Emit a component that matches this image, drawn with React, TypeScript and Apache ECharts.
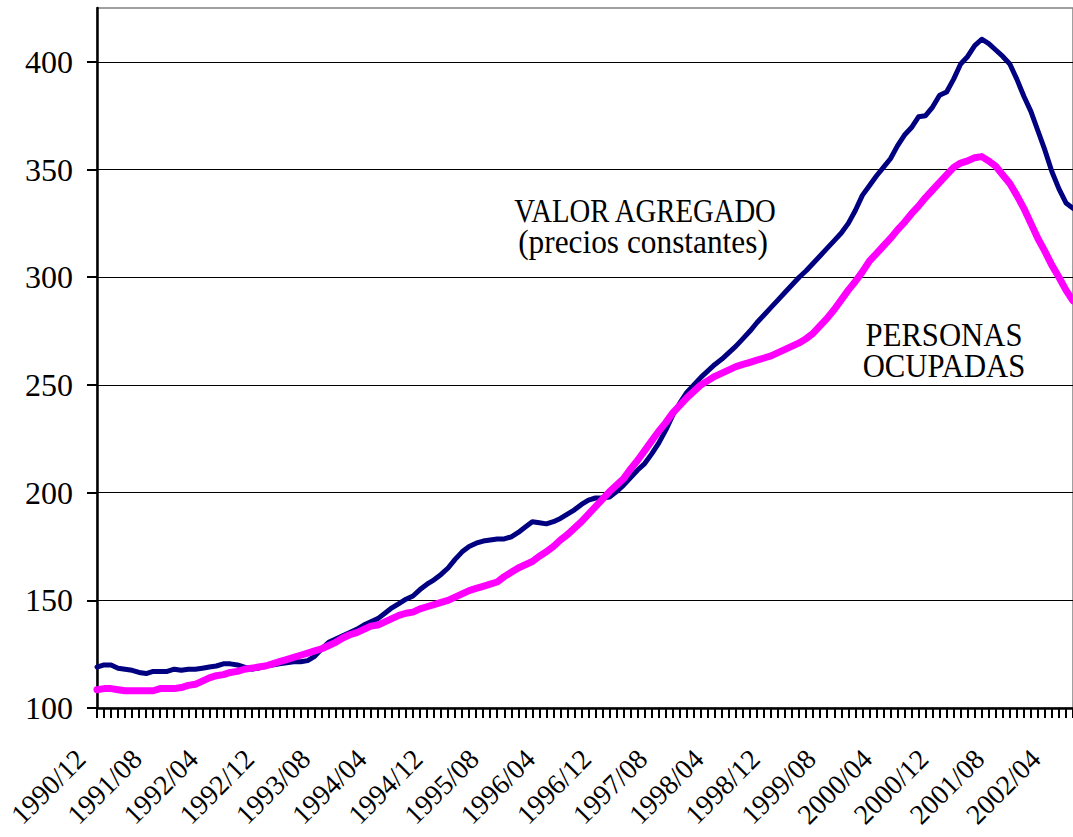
import React, { useEffect, useRef } from "react";
import * as echarts from "echarts";

// Monthly categories 1990/12 .. 2002/07
const START_YEAR = 1990;
const START_MONTH = 12;
const MONTH_COUNT = 140;
const categories: string[] = [];
for (let k = 0; k < MONTH_COUNT; k++) {
  const m0 = START_MONTH - 1 + k;
  const y = START_YEAR + Math.floor(m0 / 12);
  const m = (m0 % 12) + 1;
  categories.push(`${y}/${m < 10 ? "0" + m : m}`);
}

// VALOR AGREGADO (precios constantes)
const valorAgregado: number[] = [
  119, 120, 120, 118.5, 118, 117.5, 116.5, 116, 117, 117,
  117, 118, 117.5, 118, 118, 118.5, 119, 119.5, 120.5, 120.5,
  120, 119, 118, 118.5, 119.5, 120, 120.5, 121, 121.5, 121.5,
  122, 124, 127.5, 130.5, 132, 133.5, 135, 136.5, 138.5, 140,
  141.5, 144, 146.5, 148.5, 150.5, 152, 155, 157.5, 159.5, 162,
  165, 169, 172.5, 175, 176.5, 177.5, 178, 178.5, 178.5, 179.5,
  181.5, 184, 186.5, 186, 185.5, 186.5, 188, 190, 192, 194.5,
  196.5, 197.5, 197.5, 198, 200.5, 203.5, 207, 210.5, 213.5, 218,
  223, 229, 236, 241.5, 246.5, 250, 253.5, 256.5, 259.5, 262,
  265, 268, 271.5, 275, 279, 282.5, 286, 289.5, 293, 296.5,
  300, 303, 306.5, 310, 313.5, 317, 320.5, 325, 331, 338,
  342.5, 347, 351, 355, 361, 366, 369.5, 374.5, 375, 379,
  384.5, 386, 392, 399, 402.5, 407.5, 410.5, 408.5, 405.5, 402.5,
  399, 392, 384, 377, 368, 359, 349, 341, 334.5, 332,
];

// PERSONAS OCUPADAS
const personasOcupadas: number[] = [
  108.5, 109, 109, 108.5, 108, 108, 108, 108, 108, 109,
  109, 109, 109.5, 110.5, 111, 112.5, 114, 115, 115.5, 116.5,
  117, 118, 118.5, 119, 119.5, 120.5, 121.5, 122.5, 123.5, 124.5,
  125.5, 126.5, 127.5, 129, 130.5, 132.5, 134, 135, 136.5, 138,
  138.5, 140, 141.5, 143, 144, 144.5, 146, 147, 148, 149,
  150, 151.5, 153, 154.5, 155.5, 156.5, 157.5, 158.5, 161, 163,
  165, 166.5, 168, 170.5, 172.5, 175, 178, 180.5, 183.5, 186.5,
  190, 193.5, 197, 200.5, 203.5, 206.5, 211, 215, 219.5, 224,
  228.5, 232.5, 237, 240.5, 244, 247, 250, 252, 254, 255.5,
  257, 258.5, 259.5, 260.5, 261.5, 262.5, 263.5, 265, 266.5, 268,
  269.5, 271.5, 274, 277.5, 281, 285, 289.5, 294, 298, 302.5,
  307.5, 311, 314.5, 318, 322, 325.5, 329.5, 333, 337, 340.5,
  344, 347.5, 351, 353, 354, 355.5, 356, 354, 351.5, 347.5,
  343.5, 338, 332, 325, 318, 312, 305.5, 300, 294, 289,
];

const Y_MIN = 100;
const Y_MAX = 425;
const Y_INTERVAL = 50;

const SERIF = "Liberation Serif";

export default function App() {
  const ref = useRef<HTMLDivElement>(null);

  useEffect(() => {
    if (!ref.current) return;
    const chart = echarts.init(ref.current, null, { renderer: "svg" });
    chart.setOption({
      animation: false,
      backgroundColor: "#ffffff",
      textStyle: { fontFamily: SERIF },
      grid: {
        left: 97,
        top: 8,
        width: 976,
        bottom: 129,
        containLabel: false,
        outerBoundsMode: "none",
        show: true,
        borderColor: "#808080",
        borderWidth: 1.5,
        backgroundColor: "transparent",
      },
      xAxis: {
        type: "category",
        data: categories,
        boundaryGap: false,
        axisLine: { show: true, lineStyle: { color: "#000", width: 2.5 } },
        axisTick: {
          show: true,
          interval: 0,
          length: 10,
          inside: false,
          lineStyle: { color: "#000", width: 2 },
        },
        axisLabel: {
          interval: 7,
          rotate: 45,
          margin: 30,
          padding: [0, 23, 0, 0],
          fontFamily: SERIF,
          fontSize: 28,
          color: "#000",
        },
        splitLine: { show: false },
      },
      yAxis: {
        type: "value",
        min: Y_MIN,
        max: Y_MAX,
        interval: Y_INTERVAL,
        axisLine: { show: true, lineStyle: { color: "#000", width: 2.5 } },
        axisTick: {
          show: true,
          length: 10,
          lineStyle: { color: "#000", width: 2 },
        },
        axisLabel: {
          margin: 24,
          fontFamily: SERIF,
          fontSize: 32,
          color: "#000",
          showMaxLabel: false,
        },
        splitLine: {
          show: true,
          showMaxLine: false,
          lineStyle: { color: "#000", width: 1 },
        },
      },
      series: [
        {
          name: "VALOR AGREGADO",
          type: "line",
          data: valorAgregado,
          symbol: "none",
          lineStyle: { color: "#000080", width: 5, join: "round", cap: "round" },
          z: 3,
        },
        {
          name: "PERSONAS OCUPADAS",
          type: "line",
          data: personasOcupadas,
          symbol: "none",
          lineStyle: { color: "#ff00ff", width: 7, join: "round", cap: "round" },
          z: 4,
        },
      ],
      graphic: [
        {
          type: "text",
          x: 645,
          y: 211,
          scaleX: 0.87,
          style: {
            text: "VALOR AGREGADO",
            fontFamily: SERIF,
            fontSize: 33,
            fill: "#000",
            align: "center",
            verticalAlign: "middle",
          },
        },
        {
          type: "text",
          x: 643,
          y: 242,
          scaleX: 0.95,
          style: {
            text: "(precios constantes)",
            fontFamily: SERIF,
            fontSize: 33,
            fill: "#000",
            align: "center",
            verticalAlign: "middle",
          },
        },
        {
          type: "text",
          x: 944,
          y: 335,
          scaleX: 0.93,
          style: {
            text: "PERSONAS",
            fontFamily: SERIF,
            fontSize: 33,
            fill: "#000",
            align: "center",
            verticalAlign: "middle",
          },
        },
        {
          type: "text",
          x: 944,
          y: 366,
          scaleX: 0.93,
          style: {
            text: "OCUPADAS",
            fontFamily: SERIF,
            fontSize: 33,
            fill: "#000",
            align: "center",
            verticalAlign: "middle",
          },
        },
      ],
    });
    return () => chart.dispose();
  }, []);

  return (
    <div
      ref={ref}
      style={{ position: "absolute", left: 0, top: 0, width: 1073, height: 837 }}
    />
  );
}
